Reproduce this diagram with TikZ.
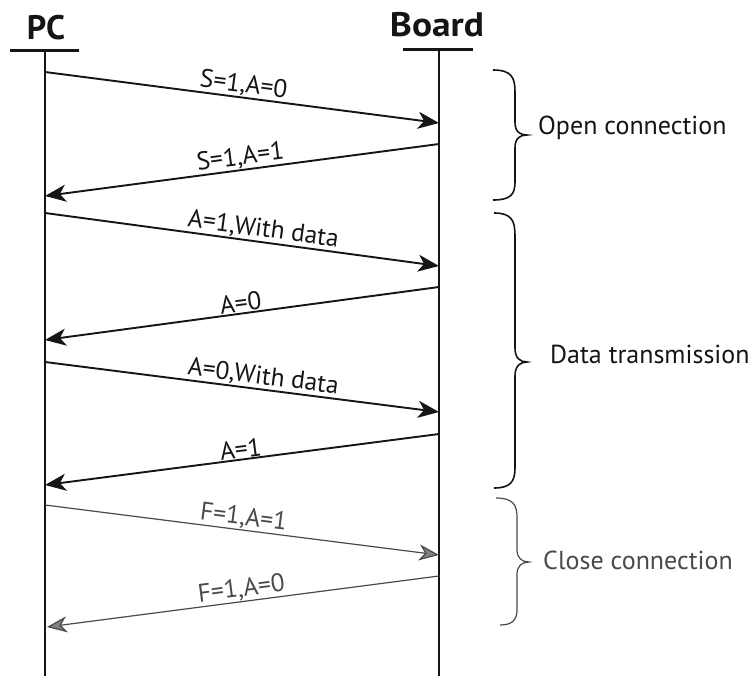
\documentclass[tikz,border=0pt]{standalone}
\usepackage{fontspec}
\setmainfont{PT Sans}
\usetikzlibrary{arrows.meta}
\definecolor{ink}{HTML}{151515}
\definecolor{soft}{HTML}{4A4A4A}
\begin{document}
\begin{tikzpicture}[x=1pt,y=-1pt,
  head/.style={font=\bfseries\fontsize{34}{34}\selectfont, text=ink, inner sep=0pt},
  bar/.style={line width=3pt, draw=ink},
  life/.style={line width=2.6pt, draw=ink},
  msg/.style={line width=1.9pt, draw=ink, -{Stealth[length=21pt,width=17pt,inset=6pt]}},
  msgsoft/.style={line width=1.2pt, draw=soft, -{Stealth[length=20pt,width=16pt,inset=6pt,fill=soft!70]}},
  lab/.style={font=\fontsize{25.5}{25.5}\selectfont, text=ink, sloped, above, inner sep=0.5pt},
  labsoft/.style={lab, text=soft},
  brace/.style={line width=1.6pt, draw=ink},
  bracesoft/.style={line width=1.2pt, draw=soft},
  phase/.style={font=\fontsize{26}{26}\selectfont, text=ink, anchor=west, inner sep=0pt},
  phasesoft/.style={phase, text=soft}]
\useasboundingbox[fill=white] (0,0) rectangle (752,676);

% headers
\node[head] (pc) at (46,28) {PC};
\node[head, xscale=1.1] (board) at (437,25) {Board};
\draw[bar] (10,51) coordinate (pcL) -- (79,51) coordinate (pcR);
\draw[bar] (403,50) coordinate (bdL) -- (473,50) coordinate (bdR);
\coordinate (pcTop) at (45,51);
\coordinate (pcBot) at (45,676);
\coordinate (bdTop) at (439,50);
\coordinate (bdBot) at (439,676);
\draw[life] (pcTop) -- (pcBot);
\draw[life] (bdTop) -- (bdBot);

% points on lifelines
\coordinate (p1) at (45,72);   \coordinate (b1) at (439,123);
\coordinate (b2) at (439,144); \coordinate (p2) at (45,196);
\coordinate (p3) at (45,213);  \coordinate (b3) at (439,266);
\coordinate (b4) at (439,287); \coordinate (p4) at (45,340);
\coordinate (p5) at (45,362);  \coordinate (b5) at (439,412);
\coordinate (b6) at (439,434); \coordinate (p6) at (45,485);
\coordinate (p7) at (45,505);  \coordinate (b7) at (439,555);
\coordinate (b8) at (439,576); \coordinate (p8) at (47,627);

% messages
\draw[msg] (p1) -- node[lab, pos=0.5] (l1) {S=1,A=0} (b1);
\draw[msg] (b2) -- node[lab, pos=0.5] (l2) {S=1,A=1} (p2);
\draw[msg] (p3) -- node[lab, pos=0.55] (l3) {A=1,With data} (b3);
\draw[msg] (b4) -- node[lab, pos=0.5] (l4) {A=0} (p4);
\draw[msg] (p5) -- node[lab, pos=0.55] (l5) {A=0,With data} (b5);
\draw[msg] (b6) -- node[lab, pos=0.5] (l6) {A=1} (p6);
\draw[msgsoft] (p7) -- node[labsoft, pos=0.5] (l7) {F=1,A=1} (b7);
\draw[msgsoft] (b8) -- node[labsoft, pos=0.5] (l8) {F=1,A=0} (p8);

% braces
\draw[brace] (493,70) .. controls (512,70) and (515,78) .. (515,92)
  -- (515,122) .. controls (515,132) and (520,135) .. (527,135)
  .. controls (520,135) and (515,138) .. (515,148)
  -- (515,182) .. controls (515,195) and (510,200) .. (493,200);
\node[phase] (open) at (538,128) {Open connection};

\draw[brace] (494,213) .. controls (512,213) and (515,221) .. (515,236)
  -- (515,348) .. controls (515,358) and (520,362) .. (527,362)
  .. controls (520,362) and (515,366) .. (515,376)
  -- (515,468) .. controls (515,482) and (510,488) .. (494,488);
\node[phase] (data) at (550,354) {Data transmission};

\draw[bracesoft] (496,498) .. controls (513,498) and (517,505) .. (517,517)
  -- (517,550) .. controls (517,558) and (522,562) .. (529,562)
  .. controls (522,562) and (517,566) .. (517,574)
  -- (517,610) .. controls (517,620) and (512,625) .. (500,625);
\node[phasesoft] (close) at (543,560) {Close connection};
\end{tikzpicture}
\end{document}
